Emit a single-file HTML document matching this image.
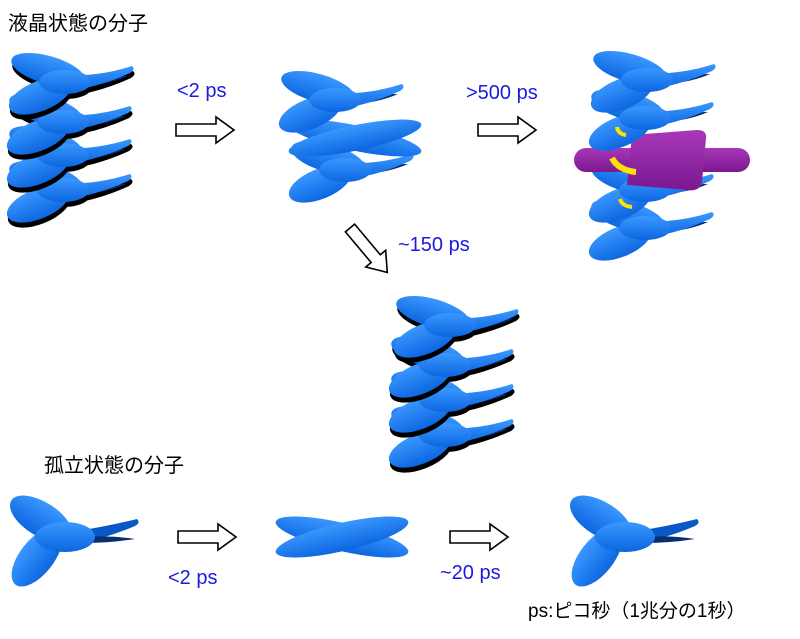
<!DOCTYPE html>
<html><head><meta charset="utf-8"><style>
html,body{margin:0;padding:0;background:#fff;}
svg{display:block;}
text{font-family:"Liberation Sans","Noto Sans CJK JP",sans-serif;}
</style></head><body>
<svg width="800" height="639" viewBox="0 0 800 639" xmlns="http://www.w3.org/2000/svg">
<defs>
<linearGradient id="bl" x1="0" y1="0" x2="0" y2="1">
<stop offset="0" stop-color="#3a98ff"/><stop offset="1" stop-color="#0c66e0"/></linearGradient>
<linearGradient id="pu" x1="0" y1="0" x2="0" y2="1">
<stop offset="0" stop-color="#a838b8"/><stop offset="1" stop-color="#7a1890"/></linearGradient>
<g id="sg">
<path d="M-15,-7 Q25,-4 62,-16 Q66,-13 60,-9 Q25,7 -10,10 Z"/>
<ellipse cx="-30" cy="14" rx="33" ry="15" transform="rotate(-22 -30 14)"/>
<ellipse cx="-22" cy="-12" rx="38" ry="14" transform="rotate(16 -22 -12)"/>
<ellipse cx="-5" cy="0" rx="26" ry="12"/>
</g>
<g id="smol">
<g fill="#000" transform="translate(1,5)"><use href="#sg"/></g>
<path d="M10,-4 Q35,-6 58,-6 Q40,2 15,4 Z" fill="#062a70"/>
<g fill="url(#bl)"><use href="#sg"/></g>
</g>
<g id="smolns">
<path d="M10,-4 Q35,-6 58,-6 Q40,2 15,4 Z" fill="#062a70"/>
<g fill="url(#bl)"><use href="#sg"/></g>
</g>
<g id="mol">
<path d="M0,-4 Q40,-10 72,-18 Q76,-14 70,-11 Q40,2 5,8 Z" fill="#0a58c8"/>
<path d="M20,0 Q45,-2 70,2 Q45,6 20,6 Z" fill="#06306f"/>
<ellipse cx="-28" cy="20" rx="35" ry="17" transform="rotate(-52 -28 20)" fill="url(#bl)"/>
<ellipse cx="-24" cy="-18" rx="35" ry="17" transform="rotate(32 -24 -18)" fill="url(#bl)"/>
<ellipse cx="0" cy="0" rx="30" ry="15" fill="url(#bl)"/>
</g>
<g id="xmol">
<ellipse cx="0" cy="0" rx="68" ry="14" transform="rotate(13)" fill="url(#bl)"/>
<ellipse cx="0" cy="0" rx="68" ry="14" transform="rotate(-13)" fill="url(#bl)"/>
</g>
<g id="arr"><path d="M0,-6 H40 V-13 L58,0 L40,13 V6 H0 Z" fill="#fff" stroke="#000" stroke-width="1.6"/></g>
</defs>

<text x="8" y="30" font-size="20">液晶状態の分子</text>
<text x="44" y="472" font-size="20">孤立状態の分子</text>

<use href="#smol" x="68" y="190"/>
<use href="#smol" x="68" y="155"/>
<use href="#smol" x="68" y="122"/>
<use href="#smol" x="70" y="82"/>

<use href="#smolns" x="350" y="170"/>
<g transform="translate(355,138) scale(1,0.9)"><use href="#xmol"/></g>
<use href="#smolns" x="340" y="100"/>

<use href="#smolns" x="650" y="228"/>
<use href="#smolns" x="650" y="190"/>
<g transform="translate(662,160)" fill="url(#pu)">
<rect x="-88" y="-12" width="176" height="24" rx="12"/>
<path d="M-30,-25 L35,-30 Q45,-30 44,-22 L40,22 Q38,32 25,30 L-35,25 Z"/>
</g>
<use href="#smolns" x="650" y="118"/>
<use href="#smolns" x="652" y="80"/>
<path d="M626,135 q-8,-1 -9,-8" stroke="#ffe000" stroke-width="4" fill="none"/>
<path d="M612,158 q6,12 24,14" stroke="#ffe000" stroke-width="6" fill="none"/>
<path d="M632,207 q-10,-1 -12,-8" stroke="#ffe000" stroke-width="4" fill="none"/>

<use href="#smol" x="450" y="435"/>
<use href="#smol" x="450" y="400"/>
<use href="#smol" x="450" y="365"/>
<use href="#smol" x="455" y="325"/>

<use href="#mol" x="65" y="537"/>
<use href="#xmol" x="342" y="537"/>
<use href="#mol" x="625" y="537"/>

<use href="#arr" x="176" y="130"/>
<use href="#arr" x="478" y="130"/>
<g transform="translate(350,228) rotate(50)"><use href="#arr"/></g>
<use href="#arr" x="178" y="537"/>
<use href="#arr" x="450" y="537"/>

<g fill="#1a1ae0" font-size="20">
<text x="177" y="97">&lt;2 ps</text>
<text x="466" y="99">&gt;500 ps</text>
<text x="398" y="251">~150 ps</text>
<text x="168" y="584">&lt;2 ps</text>
<text x="440" y="579">~20 ps</text>
</g>
<text x="528" y="617" font-size="19">ps:ピコ秒（1兆分の1秒）</text>
</svg>
</body></html>
